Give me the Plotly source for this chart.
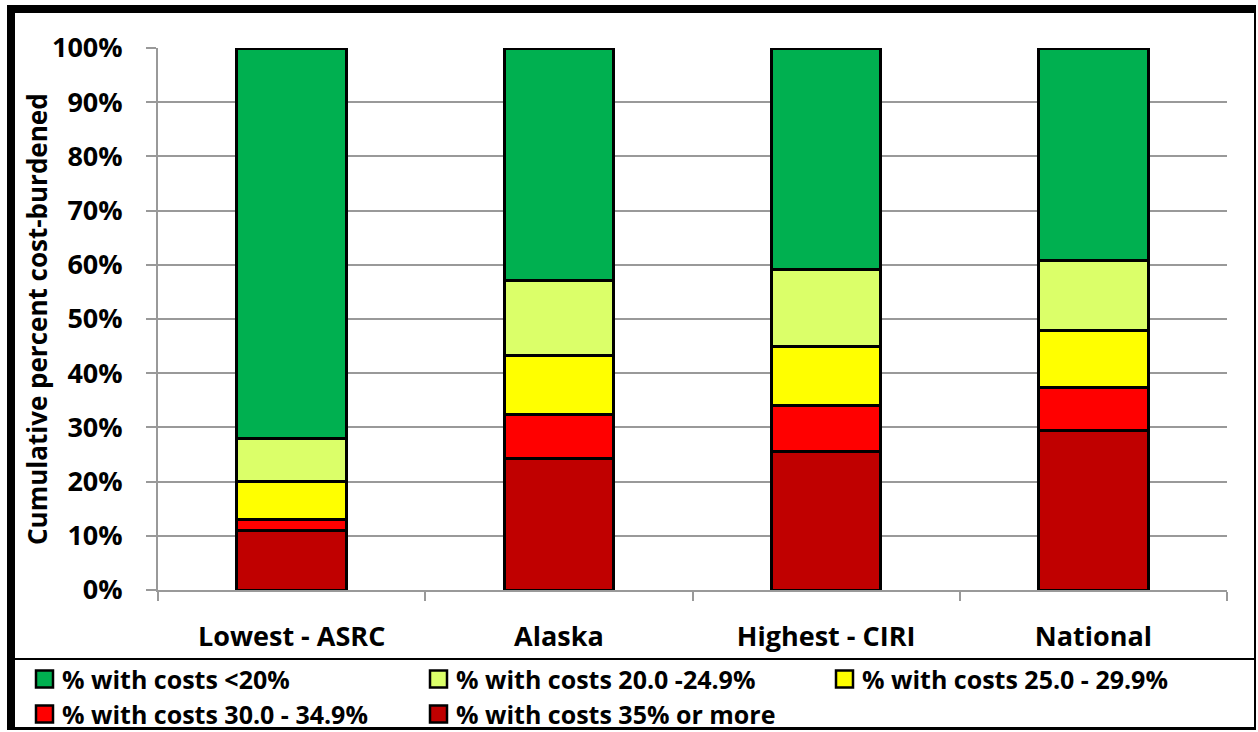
import plotly.graph_objects as go

# Housing cost burden by area, cumulative share of households (percent)
categories = ["Lowest - ASRC", "Alaska", "Highest - CIRI", "National"]

share_35_plus = [11.0, 24.2, 25.5, 29.5]
share_30_34 = [2.0, 8.1, 8.5, 7.8]
share_25_29 = [7.0, 10.9, 11.0, 10.5]
share_20_24 = [8.0, 13.9, 14.2, 13.0]
share_under_20 = [72.0, 42.9, 40.8, 39.2]

series_names = [
    "% with costs 35% or more",
    "% with costs 30.0 - 34.9%",
    "% with costs 25.0 - 29.9%",
    "% with costs 20.0 -24.9%",
    "% with costs <20%",
]
series_values = [share_35_plus, share_30_34, share_25_29, share_20_24, share_under_20]
series_colors = ["#C00000", "#FF0000", "#FFFF00", "#DBFF69", "#00B050"]

y_ticks = list(range(0, 101, 10))
y_tick_labels = [f"{v}%" for v in y_ticks]

FONT = "Open Sans"
W, H = 1258, 732
L, R, T, B = 158, 31, 48, 142
PW, PH = W - L - R, H - T - B

fig = go.Figure()
for name, vals, col in zip(series_names, series_values, series_colors):
    fig.add_trace(go.Bar(
        x=categories, y=vals, name=name, showlegend=False,
        marker=dict(color=col, line=dict(color="black", width=3)),
    ))


def px_x(px):
    return (px - L) / PW


def px_y(py):
    return (H - B - py) / PH


# frame around the chart and the rule above the legend
frame = [
    dict(x0=px_x(7), x1=px_x(1256), y0=px_y(5), y1=px_y(13)),
    dict(x0=px_x(7), x1=px_x(15), y0=px_y(5), y1=px_y(730)),
    dict(x0=px_x(1254), x1=px_x(1256), y0=px_y(5), y1=px_y(730)),
    dict(x0=px_x(7), x1=px_x(1256), y0=px_y(727), y1=px_y(730)),
    dict(x0=px_x(15), x1=px_x(1256), y0=px_y(658), y1=px_y(660)),
]
shapes = [dict(type="rect", xref="paper", yref="paper", fillcolor="black",
               line=dict(width=0), layer="above", **f) for f in frame]

# legend below the rule: three entries on the first row, two on the second
legend_slots = [(35, 679), (429, 679), (835, 679), (35, 714), (429, 714)]
annotations = []
for (sx, sy), idx in zip(legend_slots, [4, 3, 2, 1, 0]):
    shapes.append(dict(
        type="rect", xref="paper", yref="paper",
        x0=px_x(sx + 1), x1=px_x(sx + 18), y0=px_y(sy - 8.5), y1=px_y(sy + 8.5),
        fillcolor=series_colors[idx], line=dict(color="black", width=2.5),
        layer="above",
    ))
    annotations.append(dict(
        xref="paper", yref="paper", x=px_x(sx + 26), y=px_y(sy),
        xanchor="left", yanchor="middle", showarrow=False, borderpad=0,
        text=series_names[idx],
        font=dict(family=FONT, size=25, color="black", weight="bold"),
    ))

# rotated y-axis title
annotations.append(dict(
    xref="paper", yref="paper", x=px_x(37), y=0.5,
    xanchor="center", yanchor="middle", showarrow=False, textangle=-90,
    text="Cumulative percent cost-burdened",
    font=dict(family=FONT, size=26, color="black", weight="bold"),
))

fig.update_layout(
    width=W, height=H,
    margin=dict(l=L, r=R, t=T, b=B, autoexpand=False),
    barmode="stack", bargap=0.59,
    paper_bgcolor="white", plot_bgcolor="white",
    font=dict(family=FONT, size=27, color="black", weight="bold"),
    showlegend=False,
    shapes=shapes,
    annotations=annotations,
    xaxis=dict(
        type="category", showgrid=False,
        showline=True, linecolor="#999999", linewidth=2,
        ticks="outside", tickson="boundaries", ticklen=9,
        tickcolor="#999999", tickwidth=2,
        ticklabelstandoff=22,
        tickfont=dict(family=FONT, size=27, weight="bold"),
    ),
    yaxis=dict(
        range=[0, 100], tickvals=y_ticks, ticktext=y_tick_labels,
        showgrid=True, gridcolor="#999999", gridwidth=2,
        showline=True, linecolor="#999999", linewidth=2,
        ticks="outside", ticklen=10, tickcolor="#999999", tickwidth=2,
        ticklabelstandoff=18, zeroline=False,
        tickfont=dict(family=FONT, size=27, weight="bold"),
    ),
)

fig.write_html("out.html")
